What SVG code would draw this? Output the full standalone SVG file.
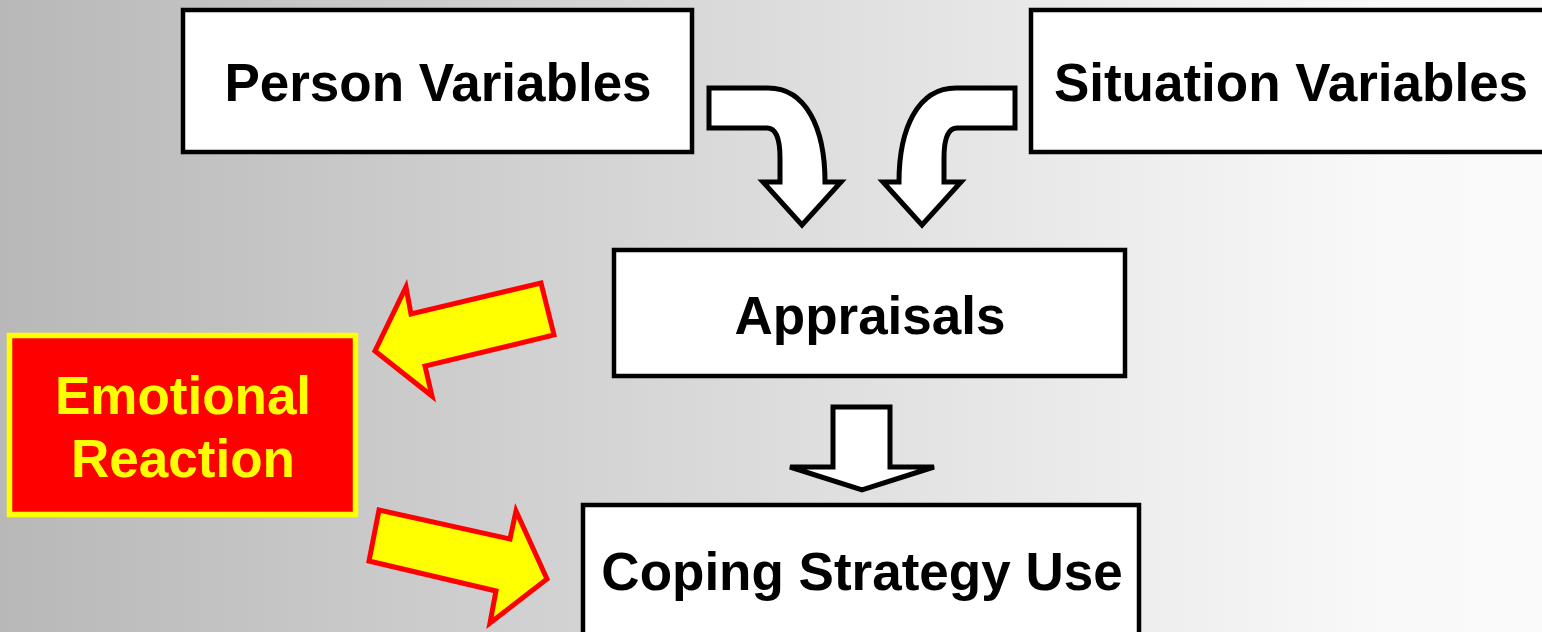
<svg xmlns="http://www.w3.org/2000/svg" width="1542" height="632" viewBox="0 0 1542 632">
  <defs>
    <linearGradient id="bg" x1="0" y1="0" x2="1" y2="0">
      <stop offset="0" stop-color="#b8b8b8"/>
      <stop offset="0.9" stop-color="#f9f9f9"/>
      <stop offset="1" stop-color="#fafafa"/>
    </linearGradient>
    <path id="curvedArrow" d="M709,88 L768,88 C806,88 825,128 825,182 L841,182 L802,225 L763,182 L780,182 L780,158 C780,140 776,128 767,128 L709,128 Z"/>
  </defs>
  <style>
    .box { fill: #ffffff; stroke: #000000; stroke-width: 4.5; }
    .lbl { font-family: "Liberation Sans", Arial, sans-serif; font-weight: bold; font-size: 53px; text-anchor: middle; fill: #000000; }
    .emo { fill: #ff0000; stroke: #ffff00; stroke-width: 5.5; }
    .emolbl { font-family: "Liberation Sans", Arial, sans-serif; font-weight: bold; font-size: 53px; text-anchor: middle; fill: #ffff00; }
    .warr { fill: #ffffff; stroke: #000000; stroke-width: 5; stroke-linejoin: miter; }
    .yarr { fill: #ffff00; stroke: #ff0000; stroke-width: 5; stroke-linejoin: miter; }
  </style>
  <rect x="0" y="0" width="1542" height="632" fill="url(#bg)"/>

  <g id="person-variables">
    <rect class="box" x="183" y="10" width="509" height="142"/>
    <text class="lbl" x="438" y="101">Person Variables</text>
  </g>
  <g id="situation-variables">
    <rect class="box" x="1031" y="10" width="520" height="142"/>
    <text class="lbl" x="1291" y="101">Situation Variables</text>
  </g>
  <g id="appraisals">
    <rect class="box" x="614" y="250" width="511" height="126"/>
    <text class="lbl" x="870" y="334">Appraisals</text>
  </g>
  <g id="coping-strategy-use">
    <rect class="box" x="583" y="505" width="556" height="140"/>
    <text class="lbl" x="862" y="590">Coping Strategy Use</text>
  </g>
  <g id="emotional-reaction">
    <rect class="emo" x="9.5" y="335.5" width="346" height="179"/>
    <text class="emolbl" x="183" y="414">Emotional</text>
    <text class="emolbl" x="183" y="477">Reaction</text>
  </g>

  <g id="connectors">
    <use href="#curvedArrow" class="warr"/>
    <use href="#curvedArrow" class="warr" transform="translate(1724,0) scale(-1,1)"/>
    <path class="warr" d="M833,407 L890,407 L890,467 L934,467 L862,490 L790,467 L833,467 Z"/>
    <polygon class="yarr" points="541,283 554,335 425,366 432,396 375,351 406,287 411,314"/>
    <polygon class="yarr" points="379,510 369,561 496,591 490,623 547,579 516,511 510,539"/>
  </g>
</svg>
